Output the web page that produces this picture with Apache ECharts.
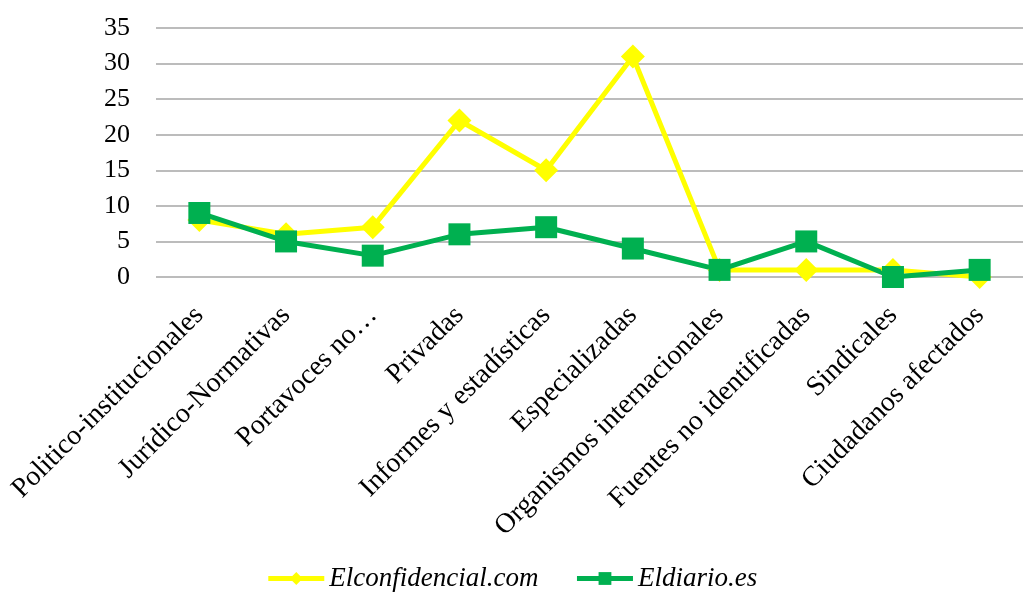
<!DOCTYPE html>
<html>
<head>
<meta charset="utf-8">
<script src="https://cdn.jsdelivr.net/npm/echarts@6/dist/echarts.min.js"></script>
<style>
  html, body { margin: 0; padding: 0; background: #fff; }
  #chart { width: 1023px; height: 603px; }
</style>
</head>
<body>
<div id="chart"></div>
<script>
  // categorías (fuentes)
  const categories = [
    'Politico-institucionales', 'Jurídico-Normativas', 'Portavoces no…', 'Privadas',
    'Informes y estadísticas', 'Especializadas', 'Organismos internacionales',
    'Fuentes no identificadas', 'Sindicales', 'Ciudadanos afectados'
  ];
  const elconfidencial = [8, 6, 7, 22, 15, 31, 1, 1, 1, 0];
  const eldiario = [9, 5, 3, 6, 7, 4, 1, 5, 0, 1];

  const font = '"Liberation Serif", "DejaVu Serif", serif';
  const chart = echarts.init(document.getElementById('chart'));

  chart.setOption({
    animation: false,
    grid: {
      left: 156,
      top: 28,
      width: 878,
      height: 249
    },
    legend: {
      bottom: 6,
      left: 'center',
      itemWidth: 56,
      itemHeight: 16,
      itemGap: 36,
      lineStyle: { width: 5 },
      textStyle: { fontFamily: font, fontStyle: 'italic', fontSize: 27, color: '#000' },
      data: ['Elconfidencial.com', 'Eldiario.es']
    },
    xAxis: {
      type: 'category',
      data: categories,
      axisLine: { show: false },
      axisTick: { show: false },
      axisLabel: {
        rotate: 45,
        interval: 0,
        margin: 34,
        fontFamily: font,
        fontSize: 28,
        color: '#000'
      }
    },
    yAxis: {
      type: 'value',
      min: 0,
      max: 35,
      interval: 5,
      axisLine: { show: false },
      axisTick: { show: false },
      axisLabel: { margin: 26, fontFamily: font, fontSize: 26, color: '#000' },
      splitLine: { lineStyle: { color: '#a6a6a6', width: 1.5 } }
    },
    series: [
      {
        name: 'Elconfidencial.com',
        type: 'line',
        data: elconfidencial,
        symbol: 'diamond',
        symbolSize: 24,
        color: '#ffff00',
        lineStyle: { color: '#ffff00', width: 5 },
        itemStyle: { color: '#ffff00' }
      },
      {
        name: 'Eldiario.es',
        type: 'line',
        data: eldiario,
        symbol: 'rect',
        symbolSize: 22,
        color: '#00b050',
        lineStyle: { color: '#00b050', width: 5 },
        itemStyle: { color: '#00b050' }
      }
    ]
  });
</script>
</body>
</html>
